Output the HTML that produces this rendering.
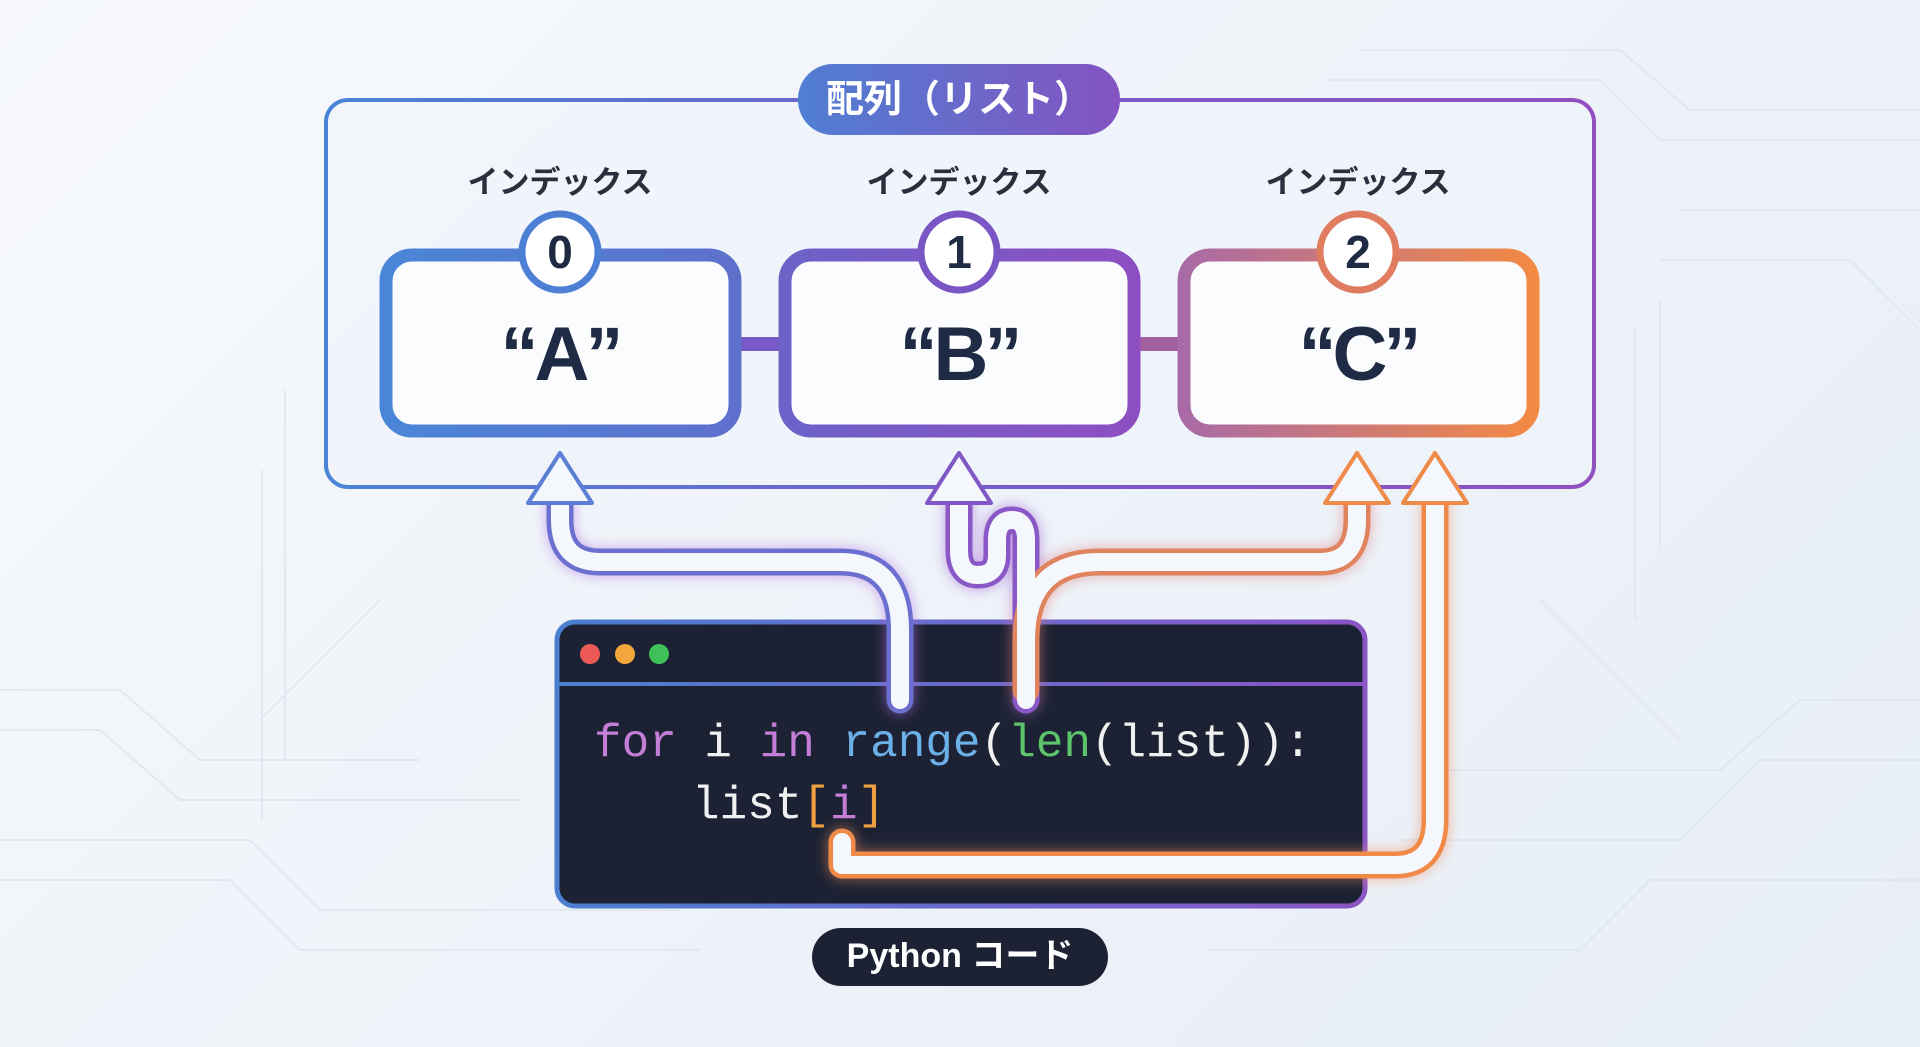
<!DOCTYPE html>
<html><head><meta charset="utf-8"><style>
html,body{margin:0;padding:0}
body{width:1920px;height:1047px;overflow:hidden;background:linear-gradient(135deg,#f7f9fc 0%,#eef3f9 50%,#e8eef6 100%);font-family:"Liberation Sans","Noto Sans CJK JP",sans-serif;position:relative}
svg{position:absolute;left:0;top:0}
</style></head><body>
<svg width="1920" height="1047" viewBox="0 0 1920 1047">
<defs>
<linearGradient id="g" x1="0" x2="1" y1="0" y2="0">
<stop offset="0" stop-color="#4a84d6"/><stop offset="0.6" stop-color="#7a58c8"/><stop offset="1" stop-color="#9050c0"/></linearGradient>
<linearGradient id="gt" x1="0" x2="1"><stop offset="0" stop-color="#4f7fd2"/><stop offset="1" stop-color="#8453c2"/></linearGradient>
<linearGradient id="ga" gradientUnits="userSpaceOnUse" x1="380" x2="741"><stop offset="0" stop-color="#4a86d8"/><stop offset="1" stop-color="#5f70cc"/></linearGradient>
<linearGradient id="gb" gradientUnits="userSpaceOnUse" x1="779" x2="1140"><stop offset="0" stop-color="#6c62c8"/><stop offset="1" stop-color="#8e4ec2"/></linearGradient>
<linearGradient id="gc" gradientUnits="userSpaceOnUse" x1="1178" x2="1539"><stop offset="0" stop-color="#a86aa8"/><stop offset="1" stop-color="#f48a42"/></linearGradient>
<linearGradient id="gcode" gradientUnits="userSpaceOnUse" x1="557" x2="1365"><stop offset="0" stop-color="#4a7fd0"/><stop offset="1" stop-color="#8a55c4"/></linearGradient>
<filter id="glow" x="-20%" y="-20%" width="140%" height="140%"><feGaussianBlur stdDeviation="6"/></filter>
</defs>
<g stroke="#dfe6ef" stroke-width="2" fill="none" opacity="0.8">
<path d="M0 690 H120 L200 760 H420"/><path d="M0 730 H100 L180 800 H520"/><path d="M0 840 H250 L320 910 H680"/>
<path d="M0 880 H230 L300 950 H700"/><path d="M1920 700 H1800 L1720 770 H1450"/><path d="M1920 760 H1760 L1680 840 H1400"/>
<path d="M1920 880 H1650 L1580 950 H1210"/><path d="M1360 50 H1620 L1690 110 H1920"/><path d="M1330 80 H1600 L1660 140 H1920"/>
<path d="M1680 210 H1920"/><path d="M1660 260 H1850 L1920 330"/><path d="M285 390 V760"/><path d="M262 470 V820"/>
<path d="M1660 300 V550"/><path d="M1635 330 V620"/><path d="M380 600 L260 720"/><path d="M1540 600 L1680 740"/>
</g>
<rect x="326" y="100" width="1268" height="387" rx="22" fill="rgba(240,245,252,0.6)" stroke="url(#g)" stroke-width="4"/>
<rect x="798" y="64" width="322" height="71" rx="35" fill="url(#gt)"/>
<text x="959" y="112" text-anchor="middle" font-size="38" font-weight="bold" fill="#fff">配列（リスト）</text>
<rect x="741" y="337" width="40" height="14" fill="#7a5ac8"/>
<rect x="1140" y="337" width="40" height="14" fill="#a0609e"/>
<rect x="386" y="255" width="349" height="176" rx="26" fill="#fbfcfe" stroke="url(#ga)" stroke-width="13"/>
<rect x="785" y="255" width="349" height="176" rx="26" fill="#fbfcfe" stroke="url(#gb)" stroke-width="13"/>
<rect x="1184" y="255" width="349" height="176" rx="26" fill="#fbfcfe" stroke="url(#gc)" stroke-width="13"/>
<g font-size="31" font-weight="bold" fill="#2a2f3d" text-anchor="middle">
<text x="560" y="193">インデックス</text><text x="959" y="193">インデックス</text><text x="1358" y="193">インデックス</text></g>
<circle cx="560" cy="252" r="38" fill="#fff" stroke="#4d80d4" stroke-width="7"/>
<circle cx="959" cy="252" r="38" fill="#fff" stroke="#7a56c4" stroke-width="7"/>
<circle cx="1358" cy="252" r="38" fill="#fff" stroke="#e07d60" stroke-width="7"/>
<g font-size="46" font-weight="bold" fill="#1f2a44" text-anchor="middle">
<text x="560" y="268">0</text><text x="959" y="268">1</text><text x="1358" y="268">2</text></g>
<g font-size="76" font-weight="bold" fill="#1f2a44" text-anchor="middle" letter-spacing="-4">
<text x="560" y="380">“A”</text><text x="959" y="380">“B”</text><text x="1358" y="380">“C”</text></g>
<rect x="557" y="622" width="808" height="284" rx="18" fill="#1c2233" stroke="url(#gcode)" stroke-width="5"/>
<line x1="559" y1="684" x2="1363" y2="684" stroke="url(#gcode)" stroke-width="4"/>
<circle cx="590" cy="654" r="10" fill="#ec5a55"/><circle cx="625" cy="654" r="10" fill="#f3a63c"/><circle cx="659" cy="654" r="10" fill="#3fc058"/>
<g font-family="'Liberation Mono',monospace" font-size="46">
<text x="594" y="756"><tspan fill="#c47ed8">for</tspan><tspan fill="#f0f0f0"> i </tspan><tspan fill="#c47ed8">in</tspan><tspan fill="#f0f0f0"> </tspan><tspan fill="#6cb0e8">range</tspan><tspan fill="#f0f0f0">(</tspan><tspan fill="#5cc46a">len</tspan><tspan fill="#f0f0f0">(list)):</tspan></text>
<text x="692" y="818"><tspan fill="#f0f0f0">list</tspan><tspan fill="#f0a040">[</tspan><tspan fill="#c47ed8">i</tspan><tspan fill="#f0a040">]</tspan></text>
</g>
<g fill="none" stroke-linecap="round" stroke-linejoin="round">
<g filter="url(#glow)" opacity="0.5" stroke-width="30">
<path d="M900 700 V630 Q900 562 840 562 H600 Q560 562 560 520 V490" stroke="#b070e0"/>
<path d="M1026 700 V540 Q1026 520 1012 520 Q997 520 997 540 V555 Q997 575 978 575 Q959 575 959 550 V490" stroke="#a060d0"/>
<path d="M1026 690 V640 Q1026 562 1100 562 H1320 Q1357 562 1357 520 V490" stroke="#e08080"/>
<path d="M842 842 V865 H1395 Q1435 865 1435 820 V490" stroke="#f09060"/>
</g>
<g stroke-width="27">
<path d="M900 700 V630 Q900 562 840 562 H600 Q560 562 560 520 V490" stroke="#6a6fd0"/>
<path d="M1026 700 V540 Q1026 520 1012 520 Q997 520 997 540 V555 Q997 575 978 575 Q959 575 959 550 V490" stroke="#8a58c6"/>
<path d="M1026 690 V640 Q1026 562 1100 562 H1320 Q1357 562 1357 520 V490" stroke="#e08460"/>
<path d="M842 842 V865 H1395 Q1435 865 1435 820 V490" stroke="#f08a48"/>
</g>
<g stroke-width="18" stroke="#f4f7fc">
<path d="M900 700 V630 Q900 562 840 562 H600 Q560 562 560 520 V488"/>
<path d="M1026 700 V540 Q1026 520 1012 520 Q997 520 997 540 V555 Q997 575 978 575 Q959 575 959 550 V488"/>
<path d="M1026 690 V640 Q1026 562 1100 562 H1320 Q1357 562 1357 520 V488"/>
<path d="M842 842 V865 H1395 Q1435 865 1435 820 V488"/>
</g>
</g>
<g fill="#f4f7fc" stroke-width="4" stroke-linejoin="round">
<path d="M560 453 L592 503 H528 Z" stroke="#5a7fd4"/>
<path d="M959 453 L991 503 H927 Z" stroke="#8058c6"/>
<path d="M1357 453 L1389 503 H1325 Z" stroke="#f08a48"/>
<path d="M1435 453 L1467 503 H1403 Z" stroke="#f08a48"/>
</g>
<rect x="812" y="928" width="296" height="58" rx="29" fill="#1c2233"/>
<text x="960" y="967" text-anchor="middle" font-size="34" font-weight="bold" fill="#fff">Python コード</text>
</svg>
</body></html>
